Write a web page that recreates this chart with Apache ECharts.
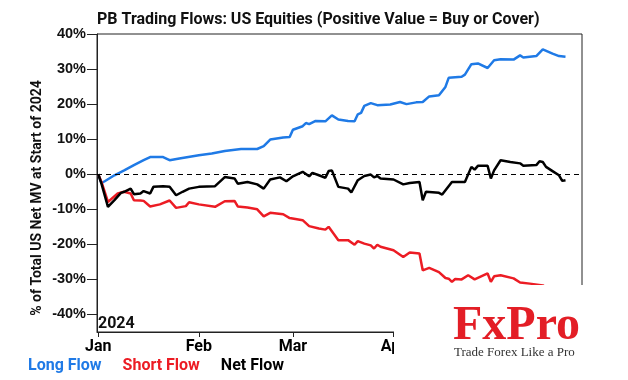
<!DOCTYPE html>
<html><head><meta charset="utf-8">
<script src="https://cdn.jsdelivr.net/npm/echarts@6/dist/echarts.min.js"></script>
<style>html,body{margin:0;padding:0;background:#fff}#c{width:628px;height:380px}</style>
</head><body><div id="c"></div>
<script>
const titleText = 'PB Trading Flows: US Equities (Positive Value = Buy or Cover)';
const yAxisName = '% of Total US Net MV at Start of 2024';
const seriesNames = ['Long Flow', 'Short Flow', 'Net Flow'];
const yTicks = [-40, -30, -20, -10, 0, 10, 20, 30, 40];
const monthTicks = ['2024-01-01', '2024-02-01', '2024-03-01', '2024-04-01', '2024-05-01'];
const monthNames = ['Jan', 'Feb', 'Mar', 'Apr', 'May'];

const longDates = ['2024-01-01','2024-01-02','2024-01-03','2024-01-06','2024-01-09','2024-01-12','2024-01-15','2024-01-17','2024-01-21','2024-01-23','2024-01-26',
 '2024-02-01','2024-02-05','2024-02-09','2024-02-14','2024-02-19','2024-02-21','2024-02-23','2024-02-27','2024-02-29',
 '2024-03-01','2024-03-04','2024-03-05','2024-03-06','2024-03-08','2024-03-11','2024-03-13','2024-03-15','2024-03-18','2024-03-20','2024-03-21','2024-03-22','2024-03-23','2024-03-25','2024-03-27','2024-03-31',
 '2024-04-03','2024-04-05','2024-04-08','2024-04-10','2024-04-12','2024-04-15','2024-04-17','2024-04-18','2024-04-22','2024-04-23','2024-04-25','2024-04-27','2024-04-30',
 '2024-05-02','2024-05-04','2024-05-08','2024-05-10','2024-05-11','2024-05-15','2024-05-17','2024-05-20','2024-05-22','2024-05-24'];
const longValues = [0,-2.5,-2.0,-0.3,1.1,2.6,4.0,4.9,4.9,4.0,4.5,
 5.4,5.9,6.6,7.2,7.2,8.0,9.9,10.5,10.6,
 12.7,13.7,14.6,14.3,15.2,15.1,16.8,15.6,15.2,15.1,17.1,17.5,19.5,20.3,19.7,19.9,
 20.6,20.0,20.5,20.6,22.2,22.5,24.9,27.5,27.8,28.4,31.4,31.6,30.3,
 32.5,32.8,32.7,33.9,33.3,33.7,35.6,34.4,33.7,33.5];

const shortDates = ['2024-01-01','2024-01-02','2024-01-04','2024-01-07','2024-01-09','2024-01-11','2024-01-12','2024-01-14','2024-01-15','2024-01-17','2024-01-20','2024-01-23','2024-01-25','2024-01-28','2024-01-29',
 '2024-02-01','2024-02-06','2024-02-09','2024-02-12','2024-02-13','2024-02-16','2024-02-19','2024-02-21','2024-02-23','2024-02-27','2024-02-29',
 '2024-03-04','2024-03-06','2024-03-09','2024-03-11','2024-03-12','2024-03-15','2024-03-18','2024-03-20','2024-03-21','2024-03-23','2024-03-25','2024-03-26','2024-03-27','2024-03-28',
 '2024-04-01','2024-04-04','2024-04-06','2024-04-09','2024-04-10','2024-04-12','2024-04-15','2024-04-17','2024-04-18','2024-04-19','2024-04-20','2024-04-22','2024-04-24','2024-04-26','2024-04-30',
 '2024-05-01','2024-05-02','2024-05-04','2024-05-08','2024-05-10','2024-05-13','2024-05-17','2024-05-20','2024-05-22','2024-05-24'];
const shortValues = [0,-2.2,-7.9,-5.5,-5.0,-5.5,-7.4,-7.5,-7.6,-9.2,-8.6,-7.5,-9.6,-9.1,-8.0,
 -8.6,-9.3,-7.7,-7.6,-9.2,-9.5,-10.0,-12.0,-11.0,-11.4,-12.5,
 -13.1,-14.8,-15.5,-15.8,-15.0,-18.8,-18.8,-20.1,-19.1,-19.8,-20.3,-21.2,-20.1,-20.7,
 -21.7,-23.6,-22.3,-22.6,-27.4,-26.7,-27.9,-29.6,-29.8,-30.7,-29.9,-30.0,-28.8,-30.0,-28.3,
 -30.7,-29.1,-28.8,-29.7,-30.9,-31.2,-31.7,-33.5,-34.5,-35.2];

const netDates = ['2024-01-01','2024-01-02','2024-01-04','2024-01-06','2024-01-08','2024-01-09','2024-01-11','2024-01-12','2024-01-14','2024-01-15','2024-01-17','2024-01-18','2024-01-21','2024-01-23','2024-01-25','2024-01-27','2024-01-29',
 '2024-02-01','2024-02-06','2024-02-09','2024-02-12','2024-02-13','2024-02-16','2024-02-19','2024-02-21','2024-02-23','2024-02-26','2024-02-28',
 '2024-03-01','2024-03-04','2024-03-06','2024-03-07','2024-03-09','2024-03-11','2024-03-12','2024-03-13','2024-03-15','2024-03-18','2024-03-19','2024-03-21','2024-03-23','2024-03-25','2024-03-26','2024-03-27','2024-03-28',
 '2024-04-01','2024-04-04','2024-04-06','2024-04-09','2024-04-10','2024-04-11','2024-04-15','2024-04-16','2024-04-19','2024-04-23','2024-04-25','2024-04-26','2024-04-27','2024-04-30',
 '2024-05-01','2024-05-02','2024-05-04','2024-05-07','2024-05-10','2024-05-11','2024-05-15','2024-05-16','2024-05-17','2024-05-18','2024-05-20','2024-05-22','2024-05-23','2024-05-24'];
const netValues = [0,-2.7,-9.3,-7.4,-5.3,-5.0,-4.1,-5.7,-5.5,-4.8,-5.5,-3.6,-3.4,-3.6,-6.0,-5.0,-4.1,
 -3.6,-3.4,-0.8,-1.2,-2.7,-2.2,-2.9,-4.1,-1.5,-0.9,-2.0,
 -0.6,0.7,-0.6,0.4,-0.3,-1.0,0.9,1.1,-3.6,-4.1,-5.2,-1.7,-0.5,-0.1,-0.9,-0.5,-1.2,
 -1.5,-2.9,-2.5,-2.2,-7.4,-5.0,-5.3,-5.8,-2.2,-2.2,2.1,1.3,2.4,2.4,
 -1.2,1.1,4.0,3.5,3.1,2.4,2.6,3.7,3.5,2.1,0.9,-0.3,-1.9,-1.7];

const colors = ['#1f7ae6', '#ec1c24', '#000000'];

function ts(s) { const p = s.split('-').map(Number); return new Date(p[0], p[1] - 1, p[2]).getTime(); }
function zip(d, v) { return d.map((x, i) => [ts(x), v[i]]); }

const chart = echarts.init(document.getElementById('c'), null, { renderer: 'canvas' });
const fontBold = { fontFamily: 'Roboto', fontWeight: 'bold', fontSize: 16, color: '#000' };

chart.setOption({
  animation: false,
  backgroundColor: '#fff',
  title: {
    text: titleText, left: 92, top: 7,
    textStyle: { fontFamily: 'Roboto', fontWeight: 'bold', fontSize: 16, color: '#111' }
  },
  legend: {
    left: 18, top: 353, icon: 'none', itemWidth: 0, itemHeight: 14, itemGap: 16,
    selectedMode: false,
    textStyle: { fontFamily: 'Roboto', fontWeight: 'bold', fontSize: 16 },
    data: seriesNames.map((n, i) => ({ name: n, textStyle: { color: colors[i] } }))
  },
  grid: { left: 97, top: 34, right: 46, bottom: 48, show: true, borderColor: '#222', borderWidth: 1, backgroundColor: 'transparent' },
  xAxis: {
    type: 'value',
    min: new Date(2023, 11, 31, 15).getTime(),
    max: new Date(2024, 4, 29, 2).getTime(),
    axisLine: { show: true, onZero: false, lineStyle: { color: '#222', width: 1 } },
    axisTick: { show: true, length: 5, lineStyle: { color: '#222' }, customValues: monthTicks.map(ts) },
    axisLabel: { ...fontBold, margin: 7, customValues: monthTicks.map(ts), formatter: v => monthNames[new Date(v).getMonth()] },
    splitLine: { show: false }
  },
  yAxis: {
    type: 'value', min: -45, max: 40,
    axisLine: { show: true, onZero: false, lineStyle: { color: '#222', width: 1 } },
    axisTick: { show: true, length: 10, lineStyle: { color: '#222' }, customValues: yTicks },
    axisLabel: { fontFamily: 'Liberation Sans', fontWeight: 'bold', fontSize: 14.5, color: '#111', margin: 11, customValues: yTicks, formatter: v => v + '%' },
    splitLine: { show: false }
  },
  series: [
    { name: seriesNames[0], type: 'line', data: zip(longDates, longValues), showSymbol: false, symbol: 'none', lineStyle: { width: 2.5, color: colors[0] }, itemStyle: { color: colors[0] } },
    { name: seriesNames[1], type: 'line', data: zip(shortDates, shortValues), showSymbol: false, symbol: 'none', lineStyle: { width: 2.5, color: colors[1] }, itemStyle: { color: colors[1] } },
    { name: seriesNames[2], type: 'line', data: zip(netDates, netValues), showSymbol: false, symbol: 'none', lineStyle: { width: 2.5, color: colors[2] }, itemStyle: { color: colors[2] },
      markLine: { silent: true, symbol: 'none', label: { show: false }, lineStyle: { type: [5, 4], color: '#000', width: 1 }, data: [{ yAxis: 0 }] } }
  ],
  graphic: [
    { type: 'text', x: 37, y: 198, rotation: Math.PI / 2, z: 50,
      style: { text: yAxisName, fontFamily: 'Liberation Sans Narrow, Roboto', fontWeight: 'bold', fontSize: 14, fill: '#111', align: 'center', verticalAlign: 'middle' } },
    { type: 'text', x: 98, y: 324, z: 50,
      style: { text: '2024', fontFamily: 'Roboto', fontWeight: 'bold', fontSize: 16, fill: '#111', align: 'left', verticalAlign: 'middle' } },
    { type: 'rect', z: 100, shape: { x: 394, y: 285, width: 234, height: 95 }, style: { fill: '#fff' } },
    { type: 'text', x: 453, y: 327, z: 101,
      style: { text: 'FxPro', fontFamily: 'Liberation Serif', fontWeight: 'bold', fontSize: 48, fill: '#e31e26', align: 'left', verticalAlign: 'middle' } },
    { type: 'text', x: 454, y: 353, z: 101,
      style: { text: 'Trade Forex Like a Pro', fontFamily: 'Liberation Serif', fontSize: 13, fill: '#333', align: 'left', verticalAlign: 'middle' } }
  ]
});
</script></body></html>
